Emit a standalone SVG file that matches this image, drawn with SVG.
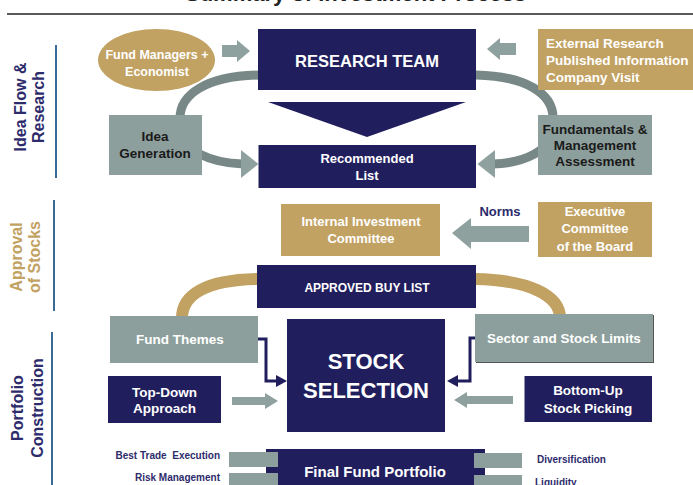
<svg xmlns="http://www.w3.org/2000/svg" width="693" height="485" viewBox="0 0 693 485">
<defs>
<style>
.t{font-family:"Liberation Sans",Arial,sans-serif;font-weight:bold}
.w{fill:#ffffff}
.navy{fill:#211e5e}
.tan{fill:#c2a263}
.gray{fill:#8d9f9c}
.ag{fill:#8fa19e}
.dk{fill:#1a1a1a}
.lab{fill:#2d2b6b}
.c{text-anchor:middle}
.sec{font-family:"Liberation Sans",Arial,sans-serif;font-weight:bold;font-size:16px;text-anchor:middle}
.vline{stroke:#3a6b96;stroke-width:2}
</style>
</defs>
<rect width="693" height="485" fill="#ffffff"/>

<!-- title (cut off at top) -->
<text class="t" x="185" y="1" font-size="22" fill="#222">Summary of Investment Process</text>
<line x1="7" y1="14" x2="693" y2="14" stroke="#5a5a5a" stroke-width="2"/>

<!-- section labels -->
<g id="sec-idea">
<text class="sec" transform="translate(26,107) rotate(-90)" fill="#2d2b6b"><tspan x="0" y="0">Idea Flow &amp;</tspan><tspan x="0" y="18">Research</tspan></text>
<line class="vline" x1="56" y1="45" x2="56" y2="178"/>
</g>
<g id="sec-approval">
<text class="sec" transform="translate(22,257) rotate(-90)" fill="#c2a263"><tspan x="0" y="0">Approval</tspan><tspan x="0" y="18">of Stocks</tspan></text>
<line class="vline" x1="54" y1="200" x2="54" y2="311"/>
</g>
<g id="sec-portfolio">
<text class="sec" transform="translate(23,408) rotate(-90)" fill="#2d2b6b"><tspan x="0" y="0">Portfolio</tspan><tspan x="0" y="20">Construction</tspan></text>
<line class="vline" x1="52" y1="332" x2="52" y2="485"/>
</g>

<!-- connectors -->
<g id="connectors">
<!-- research loop arcs -->
<path d="M 260 75 C 205 76 180 95 180 118 L 180 130 C 182 150 210 163 243 164" fill="none" stroke="#778886" stroke-width="9"/>
<polygon points="241,150 258.5,164 241,178" fill="#8fa19e"/>
<path d="M 476 75 C 525 76 553 93 553 118 L 553 130 C 551 150 525 163 493 164" fill="none" stroke="#778886" stroke-width="9"/>
<polygon points="495,150 477.5,164 495,178" fill="#8fa19e"/>
<!-- small arrows to research team -->
<polygon class="ag" points="222,45 237,45 237,40 250,51 237,62 237,57 222,57"/>
<polygon class="ag" points="516,43 500,43 500,38 487,49 500,60 500,55 516,55"/>
<!-- triangle -->
<polygon class="navy" points="268,102 466,102 367,137"/>
<!-- norms arrow -->
<polygon class="ag" points="529,226 471,226 471,218 452,233 471,249 471,242 529,242"/>
<!-- tan arcs -->
<path d="M 258 279 C 205 280 182 295 182 318" fill="none" stroke="#c2a263" stroke-width="12"/>
<path d="M 475 279 C 528 280 560 295 560 318" fill="none" stroke="#c2a263" stroke-width="12"/>
<!-- elbow arrows -->
<path d="M 257 339 L 266 339 L 266 381 L 278 381" fill="none" stroke="#ffffff" stroke-width="5"/>
<path d="M 257 339 L 266 339 L 266 381 L 278 381" fill="none" stroke="#211e5e" stroke-width="3"/>
<polygon class="navy" points="276,375 287,381 276,387"/>
<path d="M 476 338 L 470 338 L 470 381 L 456 381" fill="none" stroke="#ffffff" stroke-width="5"/>
<path d="M 476 338 L 470 338 L 470 381 L 456 381" fill="none" stroke="#211e5e" stroke-width="3"/>
<polygon class="navy" points="458,375 447,381 458,387"/>
<!-- gray arrows to stock selection -->
<polygon class="ag" points="232,397 265,397 265,393 278,401 265,409 265,405 232,405"/>
<polygon class="ag" points="513,396 467,396 467,392 454,400 467,408 467,404 513,404"/>
</g>

<!-- nodes -->
<g id="fund-managers">
<ellipse class="tan" cx="156.5" cy="60" rx="58.5" ry="31"/>
<text class="t w c" x="157" y="59" font-size="12.5">Fund Managers +</text>
<text class="t w c" x="157" y="76" font-size="12.5">Economist</text>
</g>
<g id="research-team">
<rect class="navy" x="258" y="29" width="218" height="61"/>
<text class="t w c" x="367" y="67" font-size="16.5">RESEARCH TEAM</text>
</g>
<g id="external-research">
<rect class="tan" x="538" y="29" width="160" height="61"/>
<text class="t w" x="546" y="48" font-size="13.5">External Research</text>
<text class="t w" x="546" y="65" font-size="13.5">Published Information</text>
<text class="t w" x="546" y="82" font-size="13.5">Company Visit</text>
</g>
<g id="idea-generation">
<rect class="gray" x="109" y="115" width="93" height="60"/>
<text class="t dk c" x="155" y="141" font-size="13.5">Idea</text>
<text class="t dk c" x="155" y="158" font-size="13.5">Generation</text>
</g>
<g id="recommended-list">
<rect class="navy" x="258.5" y="145" width="217.5" height="43"/>
<text class="t w c" x="367" y="163" font-size="13">Recommended</text>
<text class="t w c" x="367" y="180" font-size="13">List</text>
</g>
<g id="fundamentals">
<rect class="gray" x="538" y="115" width="114" height="60"/>
<text class="t dk c" x="595" y="134" font-size="13.5">Fundamentals &amp;</text>
<text class="t dk c" x="595" y="150" font-size="13.5">Management</text>
<text class="t dk c" x="595" y="166" font-size="13.5">Assessment</text>
</g>
<g id="internal-committee">
<rect class="tan" x="281" y="204" width="159" height="52"/>
<text class="t w c" x="361" y="226" font-size="13">Internal Investment</text>
<text class="t w c" x="361" y="243" font-size="13">Committee</text>
</g>
<g id="norms">
<text class="t lab c" x="500" y="216" font-size="13">Norms</text>
</g>
<g id="executive-committee">
<rect class="tan" x="538" y="202" width="114" height="55"/>
<text class="t w c" x="595" y="216" font-size="13">Executive</text>
<text class="t w c" x="595" y="233" font-size="13">Committee</text>
<text class="t w c" x="595" y="251" font-size="13">of the Board</text>
</g>
<g id="approved-buy-list">
<rect class="navy" x="257" y="265" width="219" height="43"/>
<text class="t w c" x="367" y="292" font-size="12">APPROVED BUY LIST</text>
</g>
<g id="fund-themes">
<rect class="gray" x="110" y="316" width="148" height="47"/>
<text class="t w c" x="180" y="344" font-size="13.5">Fund Themes</text>
</g>
<g id="sector-limits">
<rect x="476" y="315" width="178" height="48" fill="#555"/>
<rect class="gray" x="475" y="314" width="178" height="48"/>
<text class="t w c" x="564" y="343" font-size="13.5">Sector and Stock Limits</text>
</g>
<g id="stock-selection">
<rect class="navy" x="287" y="319" width="158" height="113"/>
<text class="t w c" x="366" y="369" font-size="22">STOCK</text>
<text class="t w c" x="366" y="398" font-size="22">SELECTION</text>
</g>
<g id="top-down">
<rect class="navy" x="108" y="376" width="113" height="47"/>
<text class="t w c" x="164.5" y="397" font-size="13.5">Top-Down</text>
<text class="t w c" x="164.5" y="413" font-size="13.5">Approach</text>
</g>
<g id="bottom-up">
<rect class="navy" x="524.5" y="376" width="127.5" height="46"/>
<text class="t w c" x="588" y="395" font-size="13.5">Bottom-Up</text>
<text class="t w c" x="588" y="413" font-size="13.5">Stock Picking</text>
</g>
<g id="final-portfolio">
<rect class="navy" x="266" y="449" width="219" height="40"/>
<rect class="gray" x="229" y="452" width="49" height="15"/>
<rect class="gray" x="229" y="473" width="49" height="15"/>
<rect class="gray" x="474" y="453" width="48" height="15"/>
<rect class="gray" x="474" y="475" width="48" height="15"/>
<text class="t w c" x="375" y="477" font-size="15">Final Fund Portfolio</text>
</g>
<g id="side-labels">
<text class="t lab" x="220" y="459" font-size="10" text-anchor="end" xml:space="preserve">Best Trade  Execution</text>
<text class="t lab" x="220" y="481" font-size="10" text-anchor="end">Risk Management</text>
<text class="t lab" x="537" y="463" font-size="10">Diversification</text>
<text class="t lab" x="535" y="486" font-size="10">Liquidity</text>
</g>
</svg>
